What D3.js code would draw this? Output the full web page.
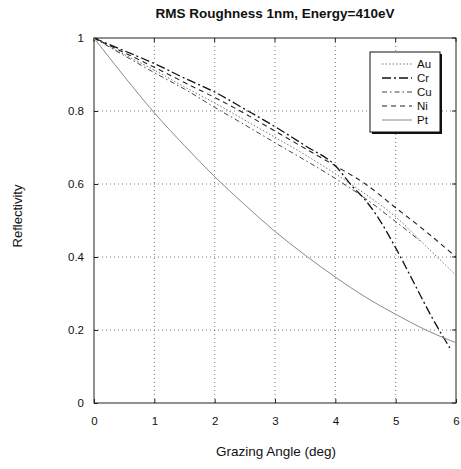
<!DOCTYPE html>
<html>
<head>
<meta charset="utf-8">
<script src="https://cdn.jsdelivr.net/npm/d3@7/dist/d3.min.js"></script>
<style>
  body { margin: 0; background: #fff; }
  text { font-family: "Liberation Sans", Arial, sans-serif; fill: #111; }
</style>
</head>
<body>
<svg id="chart" width="461" height="469"></svg>
<script>
'use strict';

// values
var xTicks = [0, 1, 2, 3, 4, 5, 6];
var yTicks = [0, 0.2, 0.4, 0.6, 0.8, 1];
var yTickLabels = ["0", "0.2", "0.4", "0.6", "0.8", "1"];

var auAngle = [0, 0.5, 1, 1.5, 2, 2.5, 3, 3.5, 4, 4.5, 5, 5.5, 6];
var auRefl  = [1, 0.955, 0.912, 0.866, 0.822, 0.775, 0.728, 0.68, 0.628, 0.572, 0.51, 0.43, 0.35];

var crAngle = [0, 0.5, 1, 1.5, 2, 2.5, 3, 3.5, 4, 4.3, 4.45, 4.7, 5, 5.3, 5.6, 5.9];
var crRefl  = [1, 0.965, 0.93, 0.89, 0.852, 0.805, 0.757, 0.705, 0.65, 0.59, 0.565, 0.51, 0.425, 0.33, 0.235, 0.15];

var cuAngle = [0, 0.5, 1, 1.5, 2, 2.5, 3, 3.5, 4, 4.5, 5, 5.4];
var cuRefl  = [1, 0.952, 0.905, 0.86, 0.81, 0.762, 0.713, 0.665, 0.615, 0.56, 0.497, 0.445];

var niAngle = [0, 0.5, 1, 1.5, 2, 2.5, 3, 3.5, 4, 4.5, 5, 5.5, 6];
var niRefl  = [1, 0.96, 0.92, 0.878, 0.837, 0.793, 0.745, 0.697, 0.65, 0.6, 0.535, 0.47, 0.4];

var ptAngle = [0, 0.5, 1, 1.5, 2, 2.5, 3, 3.5, 4, 4.5, 5, 5.5, 6];
var ptRefl  = [1, 0.895, 0.795, 0.705, 0.62, 0.543, 0.47, 0.405, 0.345, 0.29, 0.243, 0.2, 0.165];

var seriesNames = ["Au", "Cr", "Cu", "Ni", "Pt"];

var series = [
  { name: "Au", x: auAngle, y: auRefl, color: "#777", dash: "1.5,2", width: 1 },
  { name: "Cr", x: crAngle, y: crRefl, color: "#111", dash: "9,3,2,3", width: 1.3 },
  { name: "Cu", x: cuAngle, y: cuRefl, color: "#444", dash: "5,3,1.5,3", width: 1 },
  { name: "Ni", x: niAngle, y: niRefl, color: "#222", dash: "5,4", width: 1.1 },
  { name: "Pt", x: ptAngle, y: ptRefl, color: "#8a8a8a", dash: null, width: 1 }
];

var svg = d3.select("#chart");

var margin = { left: 94, right: 5, top: 38, bottom: 66 };
var width = 461 - margin.left - margin.right,
    height = 469 - margin.top - margin.bottom;

var x = d3.scaleLinear().domain([0, 6]).range([0, width]);
var y = d3.scaleLinear().domain([0, 1]).range([height, 0]);

var g = svg.append("g")
    .attr("transform", "translate(" + margin.left + "," + margin.top + ")");

// dotted grid
g.append("g").selectAll("line")
    .data(xTicks.slice(1, -1))
    .enter().append("line")
    .attr("x1", function (d) { return x(d); })
    .attr("x2", function (d) { return x(d); })
    .attr("y1", 0).attr("y2", height)
    .attr("stroke", "#555").attr("stroke-width", 0.8)
    .attr("stroke-dasharray", "1,3");

g.append("g").selectAll("line")
    .data(yTicks.slice(1, -1))
    .enter().append("line")
    .attr("y1", function (d) { return y(d); })
    .attr("y2", function (d) { return y(d); })
    .attr("x1", 0).attr("x2", width)
    .attr("stroke", "#555").attr("stroke-width", 0.8)
    .attr("stroke-dasharray", "1,3");

// axes (ticks inward, like the original)
var xAxis = g.append("g")
    .attr("transform", "translate(0," + height + ")")
    .call(d3.axisBottom(x).tickValues(xTicks).tickSize(-4).tickPadding(14).tickFormat(d3.format("d")));

var yAxis = g.append("g")
    .call(d3.axisLeft(y).tickValues(yTicks).tickSize(-4).tickPadding(10)
        .tickFormat(function (d, i) { return yTickLabels[i]; }));

[xAxis, yAxis].forEach(function (a) {
  a.select(".domain").remove();
  a.selectAll(".tick line").attr("stroke", "#222");
  a.selectAll(".tick text").style("font-size", "11.5px").attr("fill", "#111");
});

g.append("g").selectAll("line")
    .data(xTicks)
    .enter().append("line")
    .attr("x1", function (d) { return x(d); })
    .attr("x2", function (d) { return x(d); })
    .attr("y1", 0).attr("y2", 4)
    .attr("stroke", "#222");

g.append("g").selectAll("line")
    .data(yTicks)
    .enter().append("line")
    .attr("y1", function (d) { return y(d); })
    .attr("y2", function (d) { return y(d); })
    .attr("x1", width).attr("x2", width - 4)
    .attr("stroke", "#222");

g.append("rect")
    .attr("width", width).attr("height", height)
    .attr("fill", "none").attr("stroke", "#222").attr("stroke-width", 1);

// curves
var line = d3.line()
    .x(function (d) { return x(d[0]); })
    .y(function (d) { return y(d[1]); })
    .curve(d3.curveMonotoneX);

g.append("g").selectAll("path")
    .data(series)
    .enter().append("path")
    .attr("d", function (s) { return line(d3.zip(s.x, s.y)); })
    .attr("fill", "none")
    .attr("stroke", function (s) { return s.color; })
    .attr("stroke-width", function (s) { return s.width; })
    .attr("stroke-dasharray", function (s) { return s.dash; });

// legend
var lg = svg.append("g").attr("transform", "translate(370,52)");
lg.append("rect").attr("x", 2).attr("y", 2).attr("width", 70).attr("height", 80).attr("fill", "#111");
lg.append("rect").attr("width", 70).attr("height", 80).attr("fill", "#fff").attr("stroke", "#111");

var item = lg.selectAll(".item")
    .data(series)
    .enter().append("g")
    .attr("class", "item")
    .attr("transform", function (d, i) { return "translate(0," + (12 + i * 14) + ")"; });

item.append("line")
    .attr("x1", 12).attr("x2", 42)
    .attr("stroke", function (s) { return s.color; })
    .attr("stroke-width", function (s) { return s.width; })
    .attr("stroke-dasharray", function (s) { return s.dash; });

item.append("text")
    .attr("x", 47).attr("y", 4)
    .style("font-size", "11.5px")
    .text(function (d, i) { return seriesNames[i]; });

// titles
svg.append("text")
    .attr("x", 275).attr("y", 18)
    .attr("text-anchor", "middle")
    .style("font-size", "13.5px").style("font-weight", "bold")
    .text("RMS Roughness 1nm, Energy=410eV");

svg.append("text")
    .attr("x", 276).attr("y", 456)
    .attr("text-anchor", "middle")
    .style("font-size", "13.5px")
    .text("Grazing Angle (deg)");

svg.append("text")
    .attr("transform", "translate(22," + 216 + ") rotate(-90)")
    .attr("text-anchor", "middle")
    .style("font-size", "13px")
    .text("Reflectivity");
</script>
</body>
</html>
